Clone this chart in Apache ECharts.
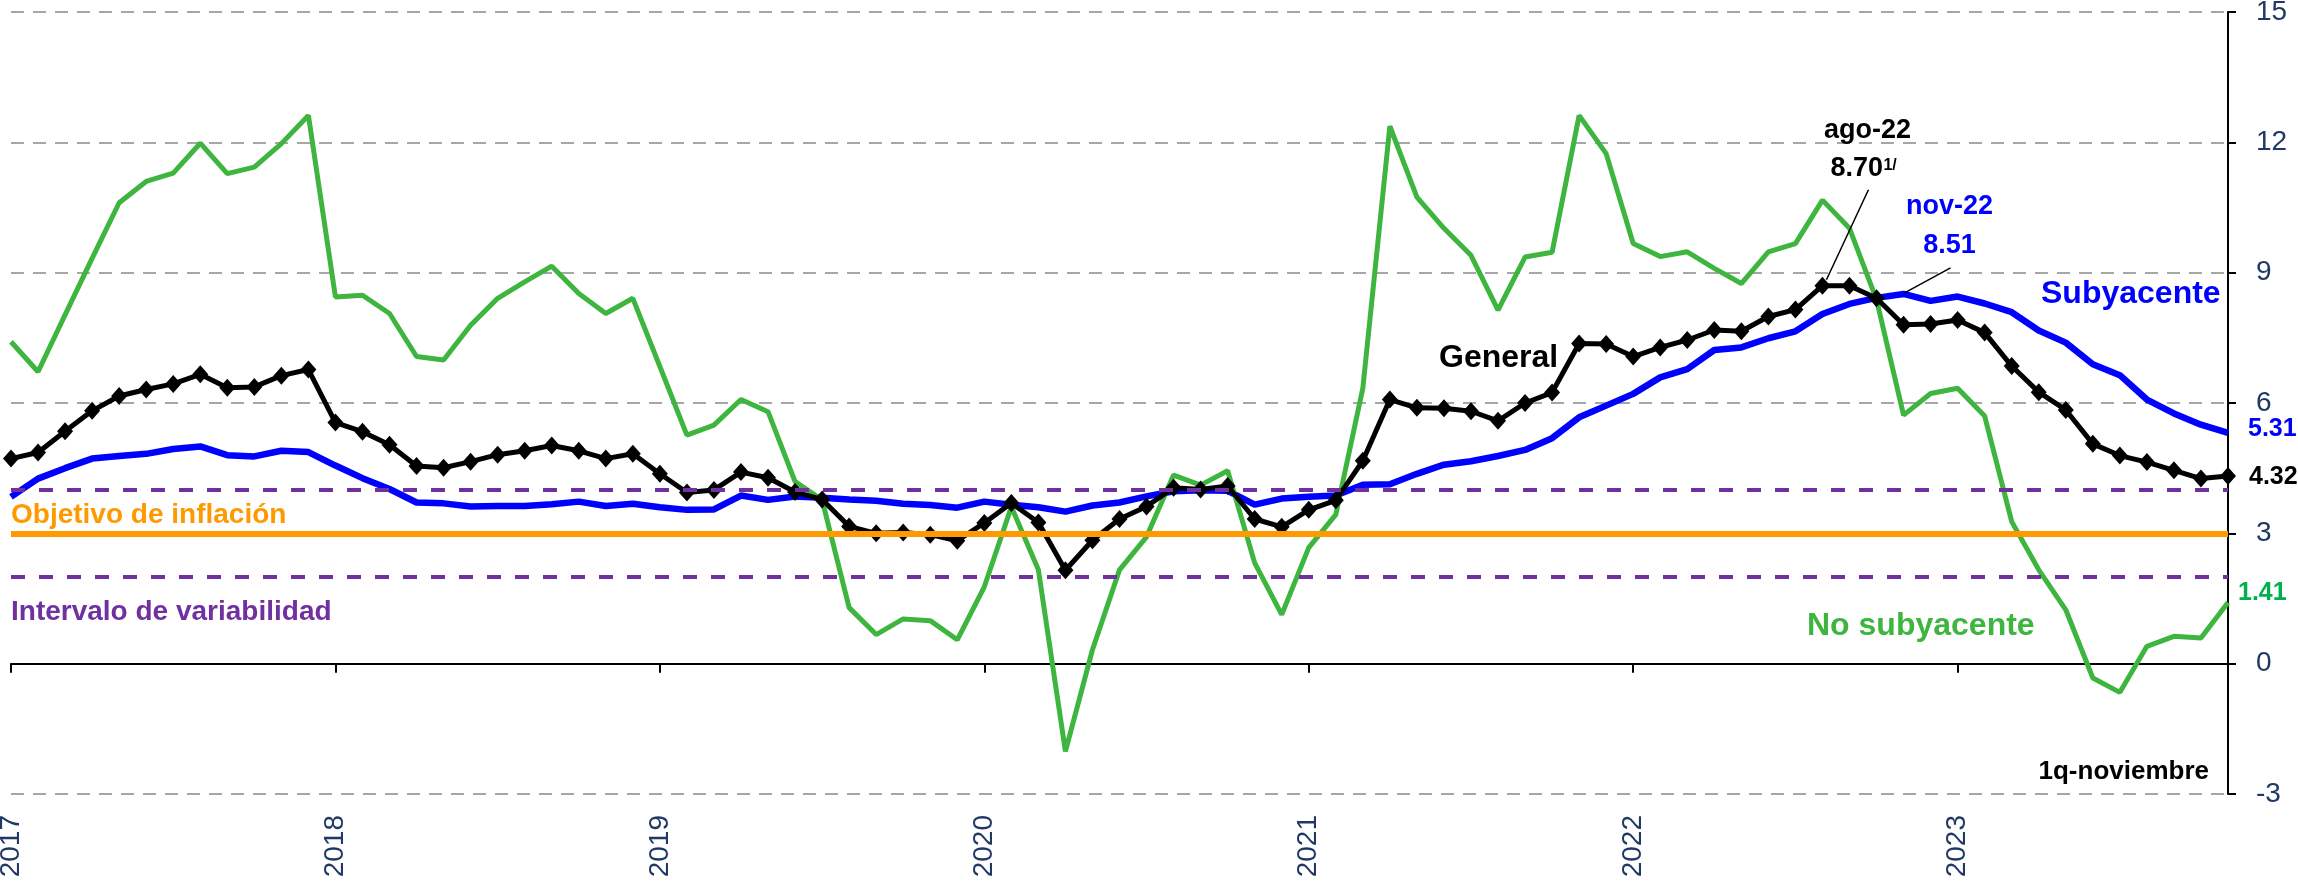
<!DOCTYPE html>
<html>
<head>
<meta charset="utf-8">
<script src="https://cdn.jsdelivr.net/npm/echarts@6/dist/echarts.min.js"></script>
<style>
html, body { margin: 0; padding: 0; background: #fff; }
#chart { width: 2298px; height: 886px; }
</style>
</head>
<body>
<div id="chart"></div>
<script>
// datos: inflación anual, mensual ene-2017 a 1q-nov-2023
var years = ['2017', '2018', '2019', '2020', '2021', '2022', '2023'];

var general = [
  4.72, 4.86, 5.35, 5.82, 6.16, 6.31, 6.44, 6.66, 6.35, 6.37, 6.63, 6.77,
  5.55, 5.34, 5.04, 4.55, 4.51, 4.65, 4.81, 4.90, 5.02, 4.90, 4.72, 4.83,
  4.37, 3.94, 4.00, 4.41, 4.28, 3.95, 3.78, 3.16, 3.00, 3.02, 2.97, 2.83,
  3.24, 3.70, 3.25, 2.15, 2.84, 3.33, 3.62, 4.05, 4.01, 4.09, 3.33, 3.15,
  3.54, 3.76, 4.67, 6.08, 5.89, 5.88, 5.81, 5.59, 6.00, 6.24, 7.37, 7.36,
  7.07, 7.28, 7.45, 7.68, 7.65, 7.99, 8.15, 8.70, 8.70, 8.41, 7.80, 7.82,
  7.91, 7.62, 6.85, 6.25, 5.84, 5.06, 4.79, 4.64, 4.45, 4.26, 4.32
];

var subyacente = [
  3.84, 4.26, 4.50, 4.72, 4.78, 4.83, 4.94, 5.00, 4.80, 4.77, 4.90, 4.87,
  4.56, 4.27, 4.02, 3.71, 3.69, 3.62, 3.63, 3.63, 3.67, 3.73, 3.63, 3.68,
  3.60, 3.54, 3.55, 3.87, 3.77, 3.85, 3.82, 3.78, 3.75, 3.68, 3.65, 3.59,
  3.73, 3.66, 3.60, 3.50, 3.64, 3.71, 3.85, 3.97, 3.99, 3.98, 3.66, 3.80,
  3.84, 3.87, 4.12, 4.13, 4.37, 4.58, 4.66, 4.78, 4.92, 5.19, 5.67, 5.94,
  6.21, 6.59, 6.78, 7.22, 7.28, 7.49, 7.65, 8.05, 8.28, 8.42, 8.51, 8.35,
  8.45, 8.29, 8.09, 7.67, 7.39, 6.89, 6.64, 6.08, 5.76, 5.50, 5.31
];

var noSubyacente = [
  7.41, 6.72, 8.03, 9.33, 10.61, 11.10, 11.29, 11.98, 11.28, 11.43, 11.97, 12.62,
  8.44, 8.48, 8.06, 7.07, 6.99, 7.79, 8.41, 8.79, 9.15, 8.52, 8.06, 8.41,
  6.84, 5.26, 5.49, 6.08, 5.80, 4.19, 3.77, 1.29, 0.67, 1.03, 0.99, 0.55,
  1.77, 3.61, 2.16, -2.02, 0.32, 2.16, 2.92, 4.34, 4.11, 4.44, 2.32, 1.13,
  2.67, 3.43, 6.34, 12.37, 10.74, 10.02, 9.40, 8.14, 9.36, 9.47, 12.62, 11.74,
  9.67, 9.37, 9.48, 9.10, 8.75, 9.48, 9.67, 10.67, 10.02, 8.38, 5.72, 6.22,
  6.34, 5.70, 3.27, 2.16, 1.24, -0.33, -0.66, 0.40, 0.63, 0.59, 1.41
];

var objetivo = 3;
var intervalo = [2, 4];
var yMin = -3, yMax = 15, yStep = 3;

// categorías mensuales (aaaa-mm)
var meses = [];
years.forEach(function (y) {
  for (var m = 1; m <= 12; m++) {
    meses.push(y + '-' + (m < 10 ? '0' : '') + m);
  }
});
meses = meses.slice(0, general.length);

var FONT = "'Liberation Sans', Arial, sans-serif";
var NAVY = '#1F3864';
var AZUL = '#0000FF';
var VERDE = '#3EB53E';
var esEnero = function (i) { return i % 12 === 0; };

var chart = echarts.init(document.getElementById('chart'));

var option = {
  animation: false,
  textStyle: { fontFamily: FONT },
  grid: { left: 11, right: 70, top: 12, bottom: 92, containLabel: false, outerBoundsMode: 'none' },
  xAxis: [
    {
      type: 'category', data: meses, boundaryGap: false, position: 'bottom',
      axisLine: { onZero: true, lineStyle: { color: '#000', width: 2 } },
      axisTick: { show: true, interval: esEnero, length: 9, lineStyle: { color: '#000', width: 2 } },
      axisLabel: { show: false },
      splitLine: { show: false }
    },
    {
      type: 'category', data: meses, boundaryGap: false, position: 'bottom',
      axisLine: { show: false, onZero: false },
      axisTick: { show: false },
      axisLabel: {
        show: true, interval: esEnero, rotate: 90, margin: 21,
        color: NAVY, fontSize: 28, fontFamily: FONT,
        formatter: function (v) { return v.slice(0, 4); }
      },
      splitLine: { show: false }
    }
  ],
  yAxis: {
    type: 'value', position: 'right', min: yMin, max: yMax, interval: yStep,
    axisLine: { show: true, lineStyle: { color: '#000', width: 2 } },
    axisTick: { show: true, length: 8, lineStyle: { color: '#000', width: 2 } },
    axisLabel: { color: NAVY, fontSize: 28, margin: 28, fontFamily: FONT },
    splitLine: { show: true, lineStyle: { color: '#A6A6A6', width: 2, type: [13, 9] } }
  },
  series: [
    {
      name: 'Objetivo', type: 'line', data: [], z: 1, silent: true,
      markLine: {
        silent: true, symbol: 'none', label: { show: false },
        lineStyle: { color: '#FF9900', width: 6, type: 'solid' },
        data: [{ yAxis: objetivo }]
      }
    },
    {
      name: 'Subyacente', type: 'line', data: subyacente, z: 2,
      showSymbol: false, lineStyle: { color: AZUL, width: 6.5 }, itemStyle: { color: AZUL },
      endLabel: {
        show: true, distance: 0, offset: [20, -4],
        formatter: function (p) { return p.value.toFixed(2); },
        color: AZUL, fontSize: 25, fontWeight: 'bold', fontFamily: FONT
      }
    },
    {
      name: 'No subyacente', type: 'line', data: noSubyacente, z: 3,
      showSymbol: false, lineStyle: { color: VERDE, width: 5 }, itemStyle: { color: VERDE },
      endLabel: {
        show: true, distance: 0, offset: [10, -9],
        formatter: function (p) { return p.value.toFixed(2); },
        color: '#00B050', fontSize: 25, fontWeight: 'bold', fontFamily: FONT
      }
    },
    {
      name: 'General', type: 'line', data: general, z: 4,
      symbol: 'diamond', symbolSize: [16, 18], showAllSymbol: true,
      lineStyle: { color: '#000', width: 5 }, itemStyle: { color: '#000' },
      endLabel: {
        show: true, distance: 0, offset: [21, 1],
        formatter: function (p) { return p.value.toFixed(2); },
        color: '#000', fontSize: 25, fontWeight: 'bold', fontFamily: FONT
      }
    },
    {
      name: 'Intervalo', type: 'line', data: [], z: 5, silent: true,
      markLine: {
        silent: true, symbol: 'none', label: { show: false },
        lineStyle: { color: '#7030A0', width: 4, type: [14, 14] },
        data: intervalo.map(function (v) { return { yAxis: v }; })
      }
    }
  ]
};

chart.setOption(option);

// anotaciones ancladas a los datos
function px(i, v) {
  return chart.convertToPixel({ xAxisIndex: 0, yAxisIndex: 0 }, [meses[i], v]);
}
function texto(t, x, y, color, size, align) {
  return {
    type: 'text', x: x, y: y, z: 100, silent: true,
    style: {
      text: t, fill: color, fontSize: size, fontWeight: 'bold', fontFamily: FONT,
      align: align || 'left', verticalAlign: 'middle'
    }
  };
}

var iAgo = meses.indexOf('2022-08');
var iNov = meses.indexOf('2022-11');
var pAgo = px(iAgo, general[iAgo]);
var pNov = px(iNov, subyacente[iNov]);

chart.setOption({
  graphic: [
    texto('Objetivo de inflación', 11, 515, '#FF9900', 28),
    texto('Intervalo de variabilidad', 11, 612, '#7030A0', 28),
    texto('General', 1439, 358, '#000', 32),
    texto('Subyacente', 2041, 294, AZUL, 32),
    texto('No subyacente', 1807, 626, VERDE, 32),
    texto('1q-noviembre', 2209, 772, '#000', 26, 'right'),
    {
      type: 'line', silent: true, z: 100,
      shape: { x1: pAgo[0] + 4, y1: pAgo[1] - 6, x2: pAgo[0] + 46, y2: pAgo[1] - 96 },
      style: { stroke: '#000', lineWidth: 1.5 }
    },
    texto('ago-22', pAgo[0] + 45, pAgo[1] - 155, '#000', 27, 'center'),
    texto(general[iAgo].toFixed(2), pAgo[0] + 8, pAgo[1] - 117, '#000', 27),
    texto('1/', pAgo[0] + 61, pAgo[1] - 120, '#000', 16),
    {
      type: 'line', silent: true, z: 100,
      shape: { x1: pNov[0] + 1, y1: pNov[1] - 1, x2: pNov[0] + 47, y2: pNov[1] - 26 },
      style: { stroke: '#000', lineWidth: 1.5 }
    },
    texto('nov-22', pNov[0] + 46, pNov[1] - 87, AZUL, 27, 'center'),
    texto(subyacente[iNov].toFixed(2), pNov[0] + 46, pNov[1] - 48, AZUL, 27, 'center')
  ]
});
</script>
</body>
</html>
